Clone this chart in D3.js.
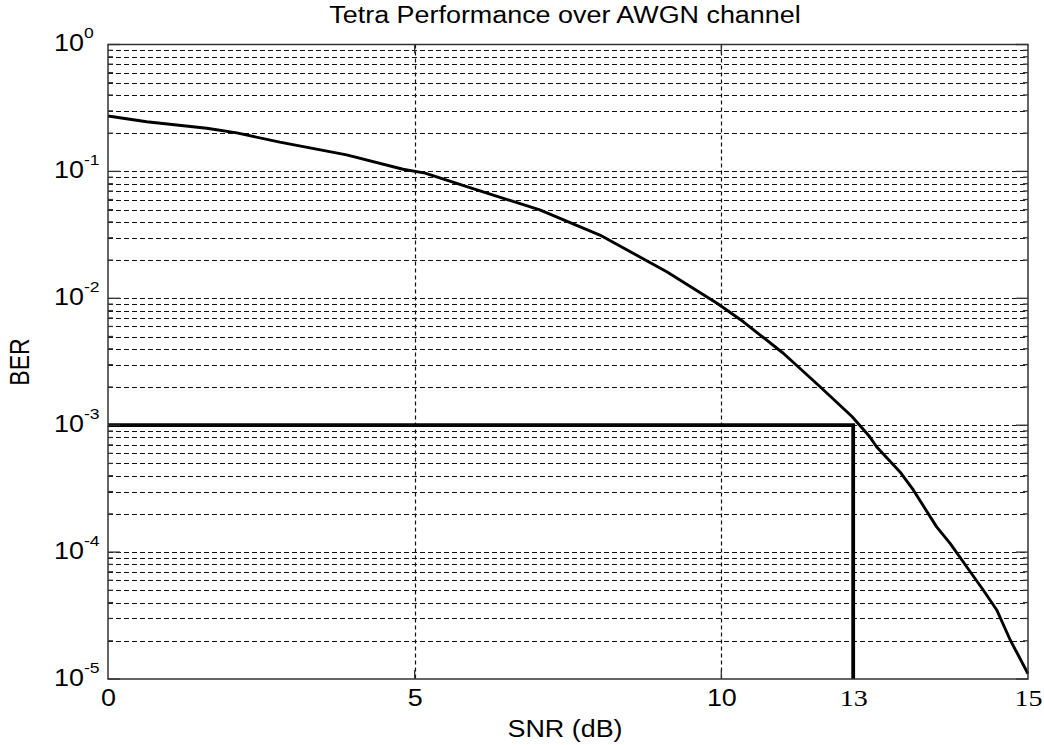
<!DOCTYPE html>
<html>
<head>
<meta charset="utf-8">
<script src="https://cdn.jsdelivr.net/npm/d3@7/dist/d3.min.js"></script>
<style>
  body { margin: 0; background: #fff; }
  svg { display: block; }
  text { font-family: Arial, "Liberation Sans", sans-serif; fill: #000; }
</style>
</head>
<body>
<div id="chart"></div>
<script>
// BER curve
var snr = [0, 0.63, 1.61, 2.10, 2.80, 3.89, 4.81, 5.17, 5.85, 7.04, 8.02, 9.11, 9.93, 10.36, 11.01,
           11.61, 12.13, 12.42, 12.53, 12.91, 13.13, 13.51, 13.73, 14.00, 14.27, 14.49, 14.71, 15];
var ber = [0.273, 0.246, 0.219, 0.201, 0.170, 0.135, 0.104, 0.097, 0.0757, 0.0497, 0.0315, 0.0162,
           0.00914, 0.00653, 0.00369, 0.00201, 0.00117, 0.00081, 6.77e-4, 4.30e-4, 3.09e-4, 1.58e-4,
           1.17e-4, 7.67e-5, 5.03e-5, 3.50e-5, 2.03e-5, 1.1e-5];

// target BER marker (the "13" label sits where the curve crosses 1e-3)
var berTarget = 1e-3;
var snrAtTarget = 12.15;

var xGrid = [5, 10];
var xTickValues = [0, 5, 10, snrAtTarget, 15];
var xTickLabels = ['0', '5', '10', '13', '15'];
var yExponents = [0, -1, -2, -3, -4, -5];

var width = 1044, height = 745;
var x0 = 108, x1 = 1028, y0 = 44.5, y1 = 679;
var sx = 1.17; // figure was stretched horizontally

var x = d3.scaleLinear().domain([0, 15]).range([x0, x1]);
var y = d3.scaleLog().domain([1e-5, 1]).range([y1, y0]);

var minor = [];
yExponents.slice(1).forEach(function(e){
	for (var k = 2; k <= 9; k++) minor.push(k * Math.pow(10, e));
});
var major = yExponents.map(function(e){ return Math.pow(10, e); });

var svg = d3.select('#chart').append('svg')
	.attr('width', width)
	.attr('height', height);

// grid
var grid = svg.append('g')
	.attr('stroke', '#111')
	.attr('stroke-width', 1.2)
	.attr('fill', 'none');

grid.selectAll('line.h')
	.data(minor.concat(major.slice(1, -1)))
	.enter().append('line')
	.attr('class', 'h')
	.attr('x1', x0).attr('x2', x1)
	.attr('y1', function(d){ return Math.round(y(d)) + 0.5; })
	.attr('y2', function(d){ return Math.round(y(d)) + 0.5; })
	.attr('stroke-dasharray', '5,3');

grid.selectAll('line.v')
	.data(xGrid)
	.enter().append('line')
	.attr('class', 'v')
	.attr('x1', function(d){ return Math.round(x(d)) + 0.5; })
	.attr('x2', function(d){ return Math.round(x(d)) + 0.5; })
	.attr('y1', y0).attr('y2', y1)
	.attr('stroke-dasharray', '4,3');

// curve
var line = d3.line()
	.x(function(d, i){ return x(snr[i]); })
	.y(function(d){ return y(d); });

svg.append('path')
	.datum(ber)
	.attr('fill', 'none')
	.attr('stroke', '#000')
	.attr('stroke-width', 2.9)
	.attr('stroke-linejoin', 'round')
	.attr('d', line);

// target lines
svg.append('path')
	.attr('fill', 'none')
	.attr('stroke', '#000')
	.attr('stroke-width', 3.8)
	.attr('d', d3.line()([[x(0), y(berTarget)], [x(snrAtTarget), y(berTarget)], [x(snrAtTarget), y(1e-5)]]));

// frame
svg.append('rect')
	.attr('x', x0).attr('y', y0)
	.attr('width', x1 - x0).attr('height', y1 - y0)
	.attr('fill', 'none')
	.attr('stroke', '#333')
	.attr('stroke-width', 1.5);

// ticks, pointing inward on all four sides
var ticks = svg.append('g').attr('stroke', '#333').attr('stroke-width', 1.3);
major.forEach(function(d){
	ticks.append('line').attr('x1', x0).attr('x2', x0 + 12).attr('y1', y(d)).attr('y2', y(d));
	ticks.append('line').attr('x1', x1).attr('x2', x1 - 12).attr('y1', y(d)).attr('y2', y(d));
});
minor.forEach(function(d){
	ticks.append('line').attr('x1', x0).attr('x2', x0 + 5).attr('y1', y(d)).attr('y2', y(d));
	ticks.append('line').attr('x1', x1).attr('x2', x1 - 5).attr('y1', y(d)).attr('y2', y(d));
});
xGrid.forEach(function(d){
	ticks.append('line').attr('x1', x(d)).attr('x2', x(d)).attr('y1', y1).attr('y2', y1 - 9);
	ticks.append('line').attr('x1', x(d)).attr('x2', x(d)).attr('y1', y0).attr('y2', y0 + 9);
});

// y tick labels 10^e
var yl = svg.selectAll('g.ylab')
	.data(yExponents)
	.enter().append('g')
	.attr('class', 'ylab')
	.attr('transform', function(e){ return 'translate(54,' + (y(Math.pow(10, e)) + 6.5) + ') scale(' + sx + ',1)'; });
yl.append('text').attr('font-size', 23).text('10');
yl.append('text').attr('font-size', 15).attr('x', 25.6).attr('y', -12.7)
	.text(function(e){ return e; });

// x tick labels
svg.selectAll('text.xlab')
	.data(xTickValues)
	.enter().append('text')
	.attr('class', 'xlab')
	.attr('text-anchor', 'middle')
	.attr('font-size', function(d, i){ return i >= 3 ? 24 : 23; })
	.style('font-family', function(d, i){ return i >= 3 ? '"Liberation Serif", "Times New Roman", serif' : null; })
	.attr('transform', function(d){ return 'translate(' + (x(d) + 0.5) + ',706) scale(' + sx + ',1)'; })
	.text(function(d, i){ return xTickLabels[i]; });

// titles
svg.append('text')
	.attr('text-anchor', 'middle')
	.attr('font-size', 23)
	.attr('transform', 'translate(565,23) scale(' + sx + ',1)')
	.text('Tetra Performance over AWGN channel');

svg.append('text')
	.attr('text-anchor', 'middle')
	.attr('font-size', 23)
	.attr('transform', 'translate(565,737) scale(' + sx + ',1)')
	.text('SNR (dB)');

svg.append('text')
	.attr('text-anchor', 'middle')
	.attr('font-size', 23)
	.attr('transform', 'translate(29,362) scale(' + sx + ',1) rotate(-90)')
	.text('BER');
</script>
</body>
</html>
